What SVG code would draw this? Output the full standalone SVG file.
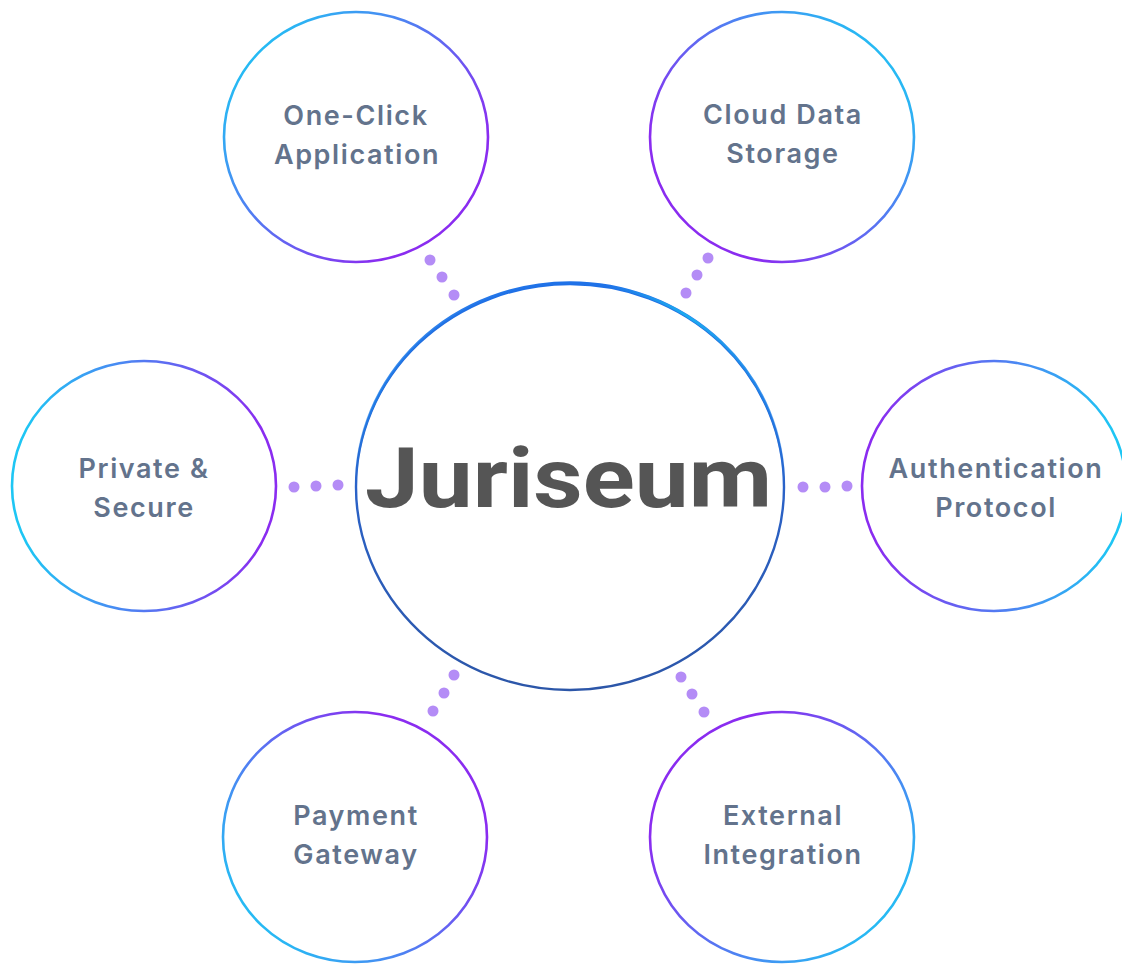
<svg xmlns="http://www.w3.org/2000/svg" width="1122" height="965" viewBox="0 0 1122 965">
<defs>
<linearGradient id="gTLcBRp" x1="0" y1="0" x2="1" y2="0.8"><stop offset="0.1" stop-color="#1ec6f4"/><stop offset="0.85" stop-color="#8a2cf0"/></linearGradient>
<linearGradient id="gTRcBLp" x1="1" y1="0" x2="0" y2="0.8"><stop offset="0.1" stop-color="#1ec6f4"/><stop offset="0.85" stop-color="#8a2cf0"/></linearGradient>
<linearGradient id="gLcRp" x1="0" y1="0.5" x2="1" y2="0.5"><stop offset="0.05" stop-color="#1ec6f4"/><stop offset="0.95" stop-color="#8a2cf0"/></linearGradient>
<linearGradient id="gLpRc" x1="0" y1="0.5" x2="1" y2="0.5"><stop offset="0.05" stop-color="#8a2cf0"/><stop offset="0.95" stop-color="#1ec6f4"/></linearGradient>
<linearGradient id="gTRpBLc" x1="1" y1="0.2" x2="0" y2="1"><stop offset="0.15" stop-color="#8a2cf0"/><stop offset="0.9" stop-color="#1ec6f4"/></linearGradient>
<linearGradient id="gTLpBRc" x1="0" y1="0.2" x2="1" y2="1"><stop offset="0.15" stop-color="#8a2cf0"/><stop offset="0.9" stop-color="#1ec6f4"/></linearGradient>
<linearGradient id="gCenter" x1="0" y1="0" x2="0" y2="1"><stop offset="0" stop-color="#1f70e6"/><stop offset="0.5" stop-color="#2a62c8"/><stop offset="1" stop-color="#2c56a8"/></linearGradient>
<linearGradient id="gTop" x1="0" y1="0" x2="0" y2="1"><stop offset="0" stop-color="#1f72e8" stop-opacity="1"/><stop offset="0.3" stop-color="#1f80ea" stop-opacity="0.8"/><stop offset="0.5" stop-color="#1f80ea" stop-opacity="0"/></linearGradient>
<linearGradient id="gTopR" gradientUnits="userSpaceOnUse" x1="607" y1="0" x2="771" y2="0"><stop offset="0" stop-color="#1aaef0" stop-opacity="0"/><stop offset="0.5" stop-color="#1aaef0" stop-opacity="0.95"/><stop offset="1" stop-color="#1aaef0" stop-opacity="0"/></linearGradient>
</defs>
<style>
.sat{fill:#ffffff;stroke-width:2.6}
.lbl{font-family:Inter,"Noto Sans","Liberation Sans",sans-serif;font-size:27px;font-weight:600;fill:#63738c;text-anchor:middle;letter-spacing:1.6px}
.dot{fill:#b48cf6}
.main{font-family:Roboto,"Liberation Sans",sans-serif;font-size:84px;font-weight:700;fill:#555555;text-anchor:middle}
</style>
<rect width="1122" height="965" fill="#ffffff"/>
<g id="connectors">
<circle class="dot" cx="430" cy="260" r="5.5"/><circle class="dot" cx="442" cy="277" r="5.5"/><circle class="dot" cx="454" cy="295" r="5.5"/>
<circle class="dot" cx="708" cy="258" r="5.5"/><circle class="dot" cx="697" cy="275" r="5.5"/><circle class="dot" cx="686" cy="293" r="5.5"/>
<circle class="dot" cx="294" cy="487" r="5.5"/><circle class="dot" cx="316" cy="486" r="5.5"/><circle class="dot" cx="338" cy="485" r="5.5"/>
<circle class="dot" cx="803" cy="487" r="5.5"/><circle class="dot" cx="825" cy="487" r="5.5"/><circle class="dot" cx="847" cy="486" r="5.5"/>
<circle class="dot" cx="454" cy="675" r="5.5"/><circle class="dot" cx="444" cy="693" r="5.5"/><circle class="dot" cx="433" cy="711" r="5.5"/>
<circle class="dot" cx="681" cy="677" r="5.5"/><circle class="dot" cx="692" cy="694" r="5.5"/><circle class="dot" cx="704" cy="712" r="5.5"/>
</g>
<g id="node-center">
<ellipse cx="570" cy="487" rx="214" ry="203" fill="#ffffff" stroke="url(#gCenter)" stroke-width="2.4"/>
<ellipse cx="570" cy="485.5" rx="214" ry="203" fill="none" stroke="url(#gTop)" stroke-width="2.6"/>
<path d="M 607.2 286.1 A 214 203 0 0 1 771.1 416.6" fill="none" stroke="url(#gTopR)" stroke-width="2.6"/>
<text class="main" x="568.5" y="507" textLength="407" lengthAdjust="spacingAndGlyphs">Juriseum</text>
</g>
<g id="node-oneclick">
<ellipse class="sat" cx="356" cy="137" rx="132" ry="125" stroke="url(#gTLcBRp)"/>
<text class="lbl" x="356" y="125">One-Click</text>
<text class="lbl" x="357" y="164">Application</text>
</g>
<g id="node-cloud">
<ellipse class="sat" cx="782" cy="137" rx="132" ry="125" stroke="url(#gTRcBLp)"/>
<text class="lbl" x="783" y="124">Cloud Data</text>
<text class="lbl" x="783" y="163">Storage</text>
</g>
<g id="node-private">
<ellipse class="sat" cx="144" cy="486" rx="132" ry="125" stroke="url(#gLcRp)"/>
<text class="lbl" x="144" y="478">Private &amp;</text>
<text class="lbl" x="144" y="517">Secure</text>
</g>
<g id="node-auth">
<ellipse class="sat" cx="994" cy="486" rx="132" ry="125" stroke="url(#gLpRc)"/>
<text class="lbl" x="996" y="478">Authentication</text>
<text class="lbl" x="996" y="517">Protocol</text>
</g>
<g id="node-payment">
<ellipse class="sat" cx="355" cy="837" rx="132" ry="125" stroke="url(#gTRpBLc)"/>
<text class="lbl" x="356" y="825">Payment</text>
<text class="lbl" x="356" y="864">Gateway</text>
</g>
<g id="node-external">
<ellipse class="sat" cx="782" cy="837" rx="132" ry="125" stroke="url(#gTLpBRc)"/>
<text class="lbl" x="783" y="825">External</text>
<text class="lbl" x="783" y="864">Integration</text>
</g>
</svg>
